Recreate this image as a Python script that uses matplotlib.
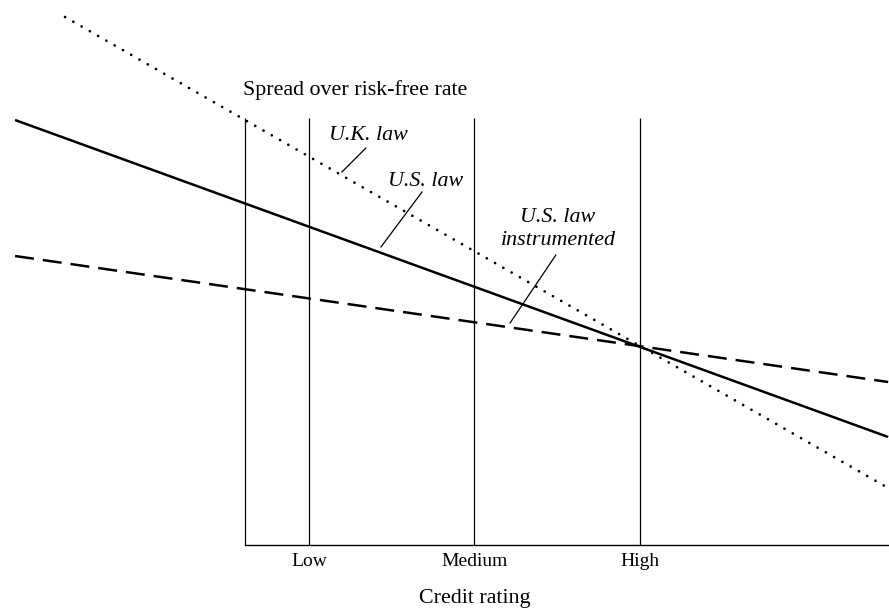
import matplotlib
matplotlib.use("Agg")
import matplotlib.pyplot as plt

# Credit rating positions (Low=1, Medium=2, High=3)
rating_labels = ["Low", "Medium", "High"]
rating_pos = [1, 2, 3]

# Straight lines: x in rating units, y = spread (arbitrary units)
us_law_x = [-0.776, 4.5]
us_law_y = [425, 108]
us_instr_x = [-0.776, 4.5]
us_instr_y = [289, 163]
uk_law_x = [-0.474, 4.5]
uk_law_y = [528, 57]

axis_left = 0.613
axis_top = 427

plt.rcParams['font.family'] = ['Liberation Serif', 'DejaVu Serif']

fig = plt.figure(figsize=(8.89, 6.10), dpi=100)
ax = fig.add_axes([0, 0, 1, 1])
ax.set_xlim(-0.867, 4.505)
ax.set_ylim(-65, 545)
ax.axis('off')

# axes frame
ax.plot([axis_left, 4.505], [0, 0], color='black', lw=1.0)
ax.vlines([axis_left] + rating_pos, 0, axis_top, color='black', lw=0.9)

lw = 1.8
ax.plot(us_law_x, us_law_y, color='black', lw=lw, solid_capstyle='butt')
ax.plot(us_instr_x, us_instr_y, color='black', lw=lw, linestyle=(0, (7.6, 3.6)), dash_capstyle='butt')
ax.plot(uk_law_x, uk_law_y, color='black', lw=2.0, linestyle=(0, (0.01, 3.42)), dash_capstyle='round')

fs_tick = 14
fs = 15.8
for p, lab in zip(rating_pos, rating_labels):
    ax.text(p, -16, lab, ha='center', va='center', fontsize=fs_tick)
ax.text(2.0, -54, "Credit rating", ha='center', va='center', fontsize=fs)
ax.text(0.601, 455, "Spread over risk-free rate", ha='left', va='center', fontsize=fs)

ax.text(1.121, 409, "U.K. law", ha='left', va='center', fontsize=fs, style='italic')
ax.plot([1.344, 1.199], [397, 373], color='black', lw=0.9)
ax.text(1.477, 364, "U.S. law", ha='left', va='center', fontsize=fs, style='italic')
ax.plot([1.683, 1.435], [353, 298], color='black', lw=0.9)
ax.text(2.504, 316, "U.S. law\ninstrumented", ha='center', va='center', fontsize=fs,
        style='italic', linespacing=1.3)
ax.plot([2.492, 2.215], [290, 222], color='black', lw=0.9)

fig.savefig("out.png", dpi=100)
